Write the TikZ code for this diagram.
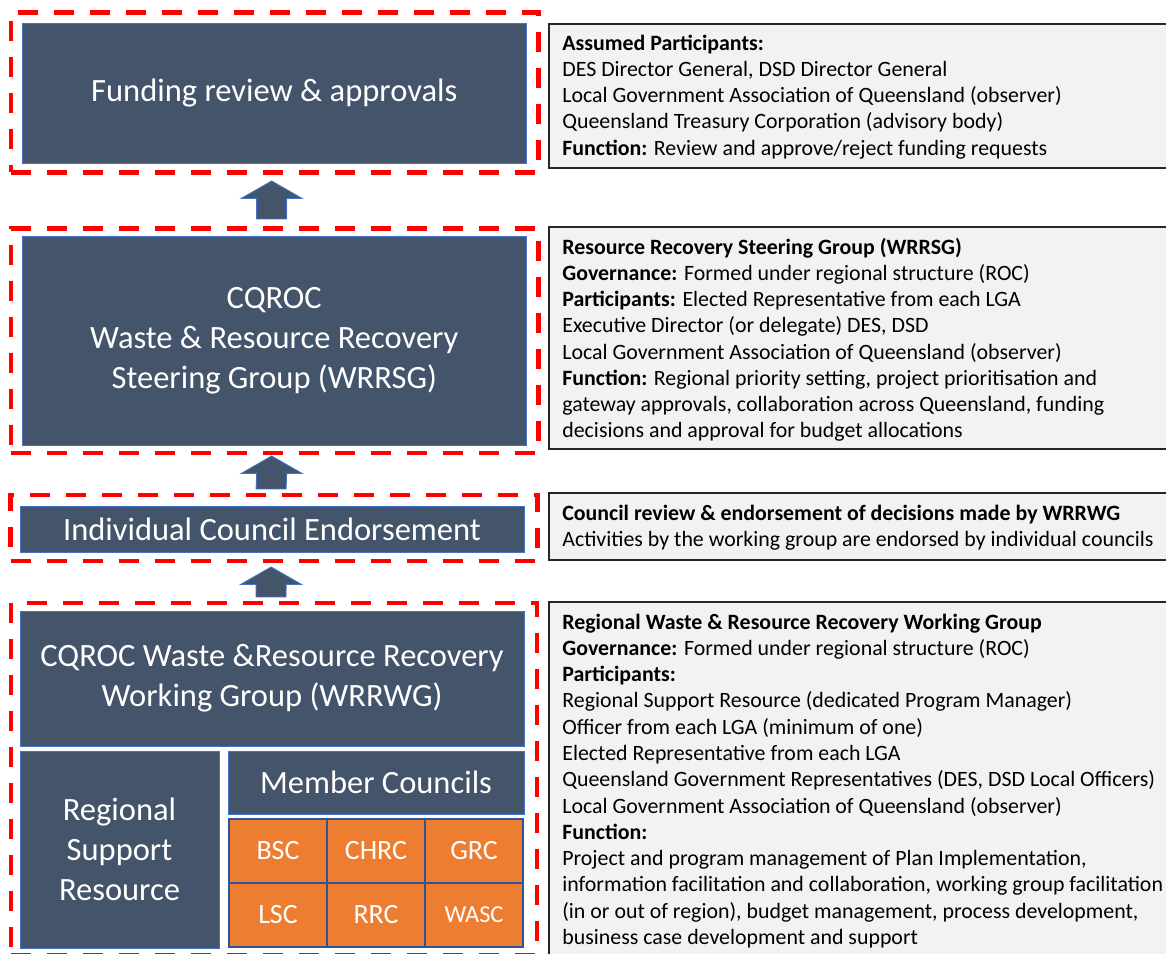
\documentclass[tikz,border=0pt]{standalone}
\usepackage{fontspec}
\setmainfont{Carlito}
\usepackage{xcolor}
\usepackage{tikz}
\usetikzlibrary{positioning, calc}

\definecolor{slate}{HTML}{44546A}
\definecolor{slateedge}{HTML}{4472C4}
\definecolor{councilorange}{HTML}{ED7D31}
\definecolor{celledge}{HTML}{2F5597}
\definecolor{notefill}{HTML}{F2F2F2}
\definecolor{noteedge}{HTML}{262626}

\tikzset{
  govbox/.style={fill=slate, draw=slateedge, line width=0.5pt, text=white, align=center, inner sep=0pt, font=\fontsize{18.5}{22.8}\selectfont},
  cellbox/.style={fill=councilorange, draw=celledge, line width=0.8pt, text=white, minimum width=1.96cm, minimum height=1.28cm, inner sep=0pt, font=\fontsize{15.9}{18}\selectfont},
  redframe/.style={draw=red, line width=2.56pt, dash pattern=on 0.4cm off 0.32cm, outer sep=0pt, inner sep=0pt},
  notebox/.style={fill=notefill, draw=noteedge, line width=0.9pt, minimum width=13cm, anchor=north west, outer sep=0pt},
  notetext/.style={align=left, inner sep=0pt, text=black, font=\fontsize{12.45}{14.94}\selectfont},
  arrowbody/.style={fill=slate, draw=slateedge, line width=0.5pt}
}

\newcommand{\blockup}[2]{%
  \filldraw[arrowbody] ($(#1)+(-0.3,0)$) -- ($(#2)+(-0.3,-0.35)$) -- ($(#2)+(-0.61,-0.35)$) -- (#2)
    -- ($(#2)+(0.61,-0.35)$) -- ($(#2)+(0.3,-0.35)$) -- ($(#1)+(0.3,0)$) -- cycle;}

\begin{document}
\begin{tikzpicture}
  \path[use as bounding box] (0,0) rectangle (23.32,19.08);
  \clip (0,0) rectangle (23.32,19.08);

  \node[redframe, minimum width=10.554cm, minimum height=3.20cm] (fr1) at (5.493,17.23) {};
  \node[govbox, minimum width=10.07cm, minimum height=2.80cm] (funding) at (5.485,17.21) {Funding review \& approvals};

  \node[redframe, minimum width=10.554cm, minimum height=4.49cm] (fr2) at (5.493,12.265) {};
  \node[govbox, minimum width=10.07cm, minimum height=4.18cm] (steering) at (5.485,12.27) {CQROC\\Waste \& Resource Recovery\\Steering Group (WRRSG)};

  \node[redframe, minimum width=10.536cm, minimum height=1.32cm] (fr3) at (5.482,8.52) {};
  \node[govbox, minimum width=10.08cm, minimum height=0.92cm] (endorse) at (5.44,8.50) {Individual Council Endorsement};

  \node[redframe, minimum width=10.52cm, minimum height=7.04cm] (fr4) at (5.48,3.50) {};
  \node[govbox, minimum width=10.08cm, minimum height=2.70cm] (working) at (5.44,5.51) {CQROC Waste \&Resource Recovery\\Working Group (WRRWG)};
  \node[govbox, minimum width=3.98cm, minimum height=3.94cm] (support) at (2.39,2.09) {Regional\\Support\\Resource};
  \node[govbox, minimum width=5.92cm, minimum height=1.26cm] (members) at (7.52,3.43) {Member Councils};

  \node[cellbox] (bsc) at (5.56,2.06) {BSC};
  \node[cellbox] (chrc) at (7.52,2.06) {CHRC};
  \node[cellbox] (grc) at (9.48,2.06) {GRC};
  \node[cellbox] (lsc) at (5.56,0.78) {LSC};
  \node[cellbox] (rrc) at (7.52,0.78) {RRC};
  \node[cellbox, font=\fontsize{13.9}{16}\selectfont] (wasc) at (9.48,0.78) {WASC};

  \coordinate (a1b) at ($(fr2.north)+(-0.06,0.19)$);
  \coordinate (a1t) at ($(fr1.south)+(-0.06,-0.17)$);
  \coordinate (a2b) at ($(fr3.north)+(-0.06,0.12)$);
  \coordinate (a2t) at ($(fr2.south)+(-0.06,-0.06)$);
  \coordinate (a3b) at ($(fr4.north)+(-0.06,0.12)$);
  \coordinate (a3t) at ($(fr3.south)+(-0.06,-0.12)$);
  \blockup{a1b}{a1t}
  \blockup{a2b}{a2t}
  \blockup{a3b}{a3t}

  \node[notebox, minimum height=2.88cm] (note1) at (10.98,18.60) {};
  \node[notetext, below right=0.15cm and 0.26cm of note1.north west] (text1) {\strut\textbf{Assumed Participants:}\\
    DES Director General, DSD Director General\\
    Local Government Association of Queensland (observer)\\
    Queensland Treasury Corporation (advisory body)\\
    \textbf{Function:} Review and approve/reject funding requests};

  \node[notebox, minimum height=4.44cm] (note2) at (10.98,14.54) {};
  \node[notetext, below right=0.17cm and 0.26cm of note2.north west] (text2) {\strut\textbf{Resource Recovery Steering Group (WRRSG)}\\
    \textbf{Governance:} Formed under regional structure (ROC)\\
    \textbf{Participants:} Elected Representative from each LGA\\
    Executive Director (or delegate) DES, DSD\\
    Local Government Association of Queensland (observer)\\
    \textbf{Function:} Regional priority setting, project prioritisation and\\
    gateway approvals, collaboration across Queensland, funding\\
    decisions and approval for budget allocations};

  \node[notebox, minimum height=1.34cm] (note3) at (10.98,9.22) {};
  \node[notetext, below right=0.17cm and 0.26cm of note3.north west] (text3) {\strut\textbf{Council review \& endorsement of decisions made by WRRWG}\\
    Activities by the working group are endorsed by individual councils};

  \node[notebox, minimum height=7.6cm] (note4) at (10.98,7.04) {};
  \node[notetext, below right=0.17cm and 0.26cm of note4.north west] (text4) {\strut\textbf{Regional Waste \& Resource Recovery Working Group}\\
    \textbf{Governance:} Formed under regional structure (ROC)\\
    \textbf{Participants:}\\
    Regional Support Resource (dedicated Program Manager)\\
    Officer from each LGA (minimum of one)\\
    Elected Representative from each LGA\\
    Queensland Government Representatives (DES, DSD Local Officers)\\
    Local Government Association of Queensland (observer)\\
    \textbf{Function:}\\
    Project and program management of Plan Implementation,\\
    information facilitation and collaboration, working group facilitation\\
    (in or out of region), budget management, process development,\\
    business case development and support};
\end{tikzpicture}
\end{document}
